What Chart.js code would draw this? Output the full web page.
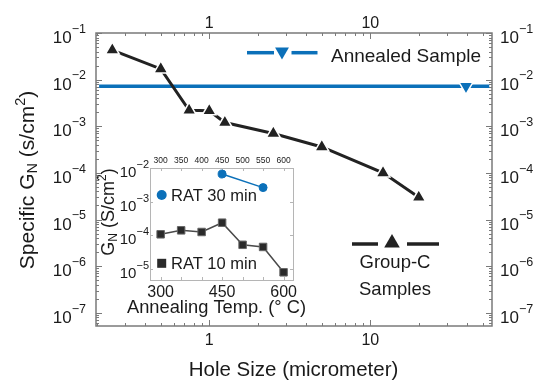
<!DOCTYPE html>
<html><head><meta charset="utf-8">
<script src="https://cdn.jsdelivr.net/npm/chart.js@4/dist/chart.umd.min.js"></script>
<style>
html,body{margin:0;padding:0;background:#fff;}
#wrap{position:relative;width:542px;height:381px;overflow:hidden;}
#main{position:absolute;left:0;top:0;}
#inset{position:absolute;left:97px;top:150px;}
</style></head><body>
<div id="wrap"><canvas id="main" width="542" height="381"></canvas><canvas id="inset" width="230" height="175"></canvas></div>
<script>
// ---- data ----
const holeSize = [0.25, 0.5, 0.75, 1.0, 1.25, 2.5, 5, 12, 20];
const groupC = [4.3e-2, 1.7e-2, 2.2e-3, 2.15e-3, 1.2e-3, 7.0e-4, 3.6e-4, 1.0e-4, 3.0e-5];
const annealedX = [0.207, 39.3, 54.8];
const annealedY = [7.2e-3, 7.2e-3, 7.2e-3];
const mainXTicks = [1, 10];
const mainYTicks = [1e-1, 1e-2, 1e-3, 1e-4, 1e-5, 1e-6, 1e-7];
const annealTemp = [300, 350, 400, 450, 500, 550, 600];
const rat10 = [1.05e-4, 1.38e-4, 1.23e-4, 2.33e-4, 5.1e-5, 4.4e-5, 7.7e-6];
const rat30Temp = [450, 550];
const rat30 = [6.6e-3, 2.6e-3];
const insetTopTicks = [300, 350, 400, 450, 500, 550, 600];
const insetBottomTicks = [300, 450, 600];
const insetYTicks = [1e-2, 1e-3, 1e-4, 1e-5];

const FAM = '"Liberation Sans", Arial, sans-serif';
const BLUE = '#0b70b9';
const TXT = '#1a1a1a';

function richWidth(ctx, parts){let w=0;for(const p of parts){ctx.font=p.size+'px '+FAM;w+=ctx.measureText(p.t).width;}return w;}
function drawRich(ctx, parts, x, y, align){
  const w = richWidth(ctx, parts);
  let cx = align==='center' ? x-w/2 : (align==='right' ? x-w : x);
  ctx.textAlign='left'; ctx.textBaseline='alphabetic';
  for(const p of parts){ctx.font=p.size+'px '+FAM;ctx.fillText(p.t, cx, y+(p.dy||0));cx+=ctx.measureText(p.t).width;}
}
function powParts(v, S, s){const e=Math.round(Math.log10(v));return [{t:'10',size:S},{t:'\u2212'+Math.abs(e),size:s,dy:-S*0.6}];}
function logTicks(min,max){const out=[];for(let e=Math.floor(Math.log10(min));e<=Math.ceil(Math.log10(max));e++){for(let m=1;m<10;m++){const v=m*Math.pow(10,e);if(v>=min*0.9999&&v<=max*1.0001)out.push({v,major:m===1});}}return out;}
function line(ctx,x1,y1,x2,y2){ctx.beginPath();ctx.moveTo(x1,y1);ctx.lineTo(x2,y2);ctx.stroke();}
function tri(ctx,x,y,r,down,color){ctx.fillStyle=color;ctx.beginPath();const d=down?-1:1;ctx.moveTo(x,y-d*r);ctx.lineTo(x+r*0.866,y+d*r/2);ctx.lineTo(x-r*0.866,y+d*r/2);ctx.closePath();ctx.fill();}

const mainPlugin = {
  id:'mainDeco',
  beforeDatasetsDraw(chart){
    const {ctx, chartArea:a, scales:{x,y}} = chart;
    ctx.save();
    ctx.strokeStyle='#7a7a7a'; ctx.lineWidth=1.5;
    ctx.strokeRect(a.left,a.top,a.right-a.left,a.bottom-a.top);
    ctx.lineWidth=1;
    for(const t of logTicks(x.min,x.max)){const px=Math.round(x.getPixelForValue(t.v))+0.5;const L=t.major?6:3;line(ctx,px,a.bottom,px,a.bottom-L);line(ctx,px,a.top,px,a.top+L);}
    for(const t of logTicks(y.min,y.max)){const py=Math.round(y.getPixelForValue(t.v))+0.5;const L=t.major?6:3;line(ctx,a.left,py,a.left+L,py);line(ctx,a.right,py,a.right-L,py);}
    ctx.restore();
  },
  afterDraw(chart){
    const {ctx, chartArea:a, scales:{x,y}} = chart;
    ctx.save(); ctx.fillStyle=TXT;
    for(const v of mainYTicks){const py=y.getPixelForValue(v);drawRich(ctx,powParts(v,17,12.5),86,py+10,'right');drawRich(ctx,powParts(v,17,12.5),500,py+10,'left');}
    ctx.font='16px '+FAM; ctx.textAlign='center'; ctx.textBaseline='alphabetic';
    for(const v of mainXTicks){const px=x.getPixelForValue(v);ctx.fillText(String(v),px,28);ctx.fillText(String(v),px,345);}
    // x title
    drawRich(ctx,[{t:'Hole Size (micrometer)',size:20.5}],293.5,376,'center');
    // y title
    ctx.save(); ctx.translate(34,180); ctx.rotate(-Math.PI/2);
    drawRich(ctx,[{t:'Specific G',size:21},{t:'N',size:14.5,dy:3},{t:' (s/cm',size:21},{t:'2',size:14.5,dy:-9.5},{t:')',size:21}],0,0,'center');
    ctx.restore();
    // legend: annealed
    ctx.strokeStyle=BLUE; ctx.lineWidth=3.5;
    line(ctx,247,52.7,274,52.7); line(ctx,291.5,52.7,317.5,52.7);
    tri(ctx,282,51.5,8,true,BLUE);
    ctx.fillStyle=TXT; drawRich(ctx,[{t:'Annealed Sample',size:19}],331,61.5,'left');
    // legend: group-C
    ctx.strokeStyle='#222'; ctx.lineWidth=3.5;
    line(ctx,352,244,378,244); line(ctx,407,244,439,244);
    tri(ctx,392,243,9,false,'#222');
    ctx.fillStyle=TXT;
    drawRich(ctx,[{t:'Group-C',size:18.5}],395,268,'center');
    drawRich(ctx,[{t:'Samples',size:18.5}],395,295,'center');
    ctx.restore();
  }
};

new Chart(document.getElementById('main'),{
  type:'line',
  data:{datasets:[
    {data:holeSize.map((v,i)=>({x:v,y:groupC[i]})),borderColor:'#222',borderWidth:3,pointStyle:'triangle',pointRadius:8,pointBackgroundColor:'#222',pointBorderColor:'#fff',pointBorderWidth:1.5},
    {data:annealedX.map((v,i)=>({x:v,y:annealedY[i]})),borderColor:BLUE,borderWidth:3.5,pointStyle:'triangle',pointRotation:180,pointRadius:[0,8,0],pointBackgroundColor:BLUE,pointBorderColor:'#fff',pointBorderWidth:1.5}
  ]},
  options:{responsive:false,animation:false,events:[],
    layout:{padding:{left:96,right:50,top:33,bottom:55}},
    scales:{x:{type:'logarithmic',min:0.198,max:57,display:false},y:{type:'logarithmic',min:5.2e-8,max:0.1,display:false}},
    plugins:{legend:{display:false},tooltip:{enabled:false}}},
  plugins:[mainPlugin]
});

const insetPlugin = {
  id:'insetDeco',
  beforeDatasetsDraw(chart){
    const {ctx, chartArea:a, scales:{x,y}} = chart;
    ctx.save();
    ctx.strokeStyle='#b5b5b5'; ctx.lineWidth=1;
    ctx.strokeRect(a.left+0.5,a.top+0.5,a.right-a.left,a.bottom-a.top);
    for(const v of insetTopTicks){const px=Math.round(x.getPixelForValue(v))+0.5;line(ctx,px,a.bottom,px,a.bottom-3);line(ctx,px,a.top,px,a.top+3);}
    for(const t of logTicks(y.min,y.max)){if(!t.major)continue;const py=Math.round(y.getPixelForValue(t.v))+0.5;line(ctx,a.left,py,a.left+3,py);line(ctx,a.right,py,a.right-3,py);}
    ctx.restore();
  },
  afterDraw(chart){
    const {ctx, chartArea:a, scales:{x,y}} = chart;
    ctx.save(); ctx.fillStyle=TXT;
    for(const v of insetYTicks){const py=y.getPixelForValue(v);drawRich(ctx,powParts(v,15,11),52,py+9,'right');}
    ctx.font='8.5px '+FAM; ctx.textAlign='center';
    for(const v of insetTopTicks){ctx.fillText(String(v),x.getPixelForValue(v),13);}
    ctx.font='16px '+FAM;
    for(const v of insetBottomTicks){ctx.fillText(String(v),x.getPixelForValue(v),146.5);}
    drawRich(ctx,[{t:'Annealing Temp. (\u00B0 C)',size:18.3}],119.5,163,'center');
    ctx.save(); ctx.translate(17,62); ctx.rotate(-Math.PI/2);
    drawRich(ctx,[{t:'G',size:18},{t:'N',size:12,dy:3},{t:' (S/cm',size:18},{t:'2',size:12,dy:-8},{t:')',size:18}],0,0,'center');
    ctx.restore();
    // legend
    ctx.fillStyle=BLUE; ctx.beginPath(); ctx.arc(64.7,45,5,0,Math.PI*2); ctx.fill();
    ctx.fillStyle=TXT; drawRich(ctx,[{t:'RAT 30 min',size:16.5}],74,51,'left');
    ctx.fillStyle='#2a2a2a'; ctx.fillRect(60.2,108.8,9,9);
    ctx.fillStyle=TXT; drawRich(ctx,[{t:'RAT 10 min',size:16.5}],74,119.3,'left');
    ctx.restore();
  }
};

new Chart(document.getElementById('inset'),{
  type:'line',
  data:{datasets:[
    {data:annealTemp.map((v,i)=>({x:v,y:rat10[i]})),borderColor:'#4a4a4a',borderWidth:1.5,pointStyle:'rect',pointRadius:5.3,pointBackgroundColor:'#2a2a2a',pointBorderColor:'#666',pointBorderWidth:1},
    {data:rat30Temp.map((v,i)=>({x:v,y:rat30[i]})),borderColor:BLUE,borderWidth:1.5,pointStyle:'circle',pointRadius:4,pointBackgroundColor:BLUE,pointBorderColor:BLUE,pointBorderWidth:1}
  ]},
  options:{responsive:false,animation:false,events:[],
    layout:{padding:{left:53,right:34,top:18,bottom:45}},
    scales:{x:{type:'linear',min:274,max:623,display:false},y:{type:'logarithmic',min:4.54e-6,max:1e-2,display:false}},
    plugins:{legend:{display:false},tooltip:{enabled:false}}},
  plugins:[insetPlugin]
});
</script>
</body></html>
